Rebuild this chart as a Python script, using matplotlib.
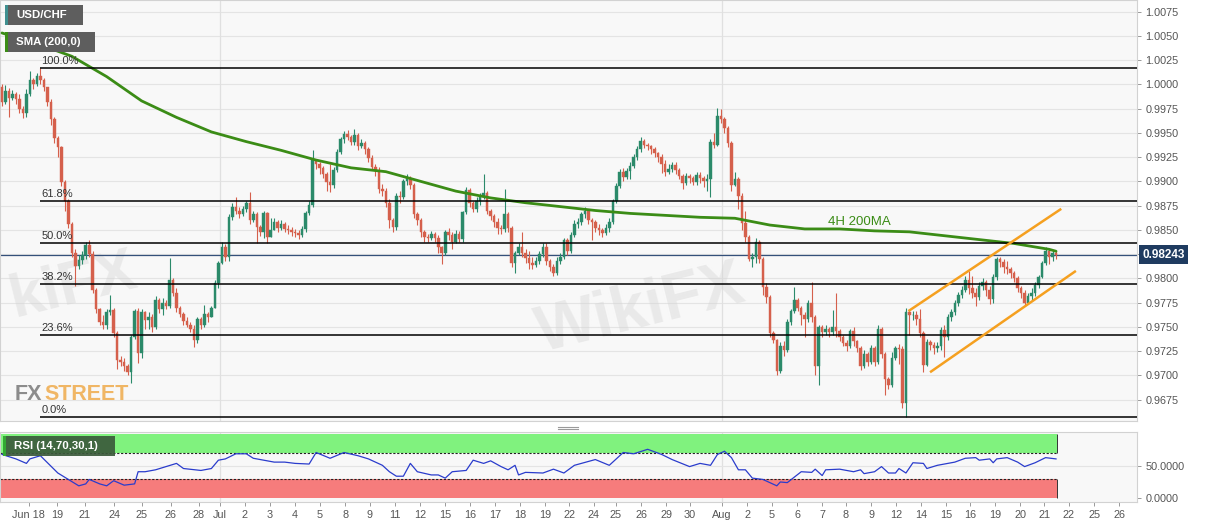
import matplotlib
matplotlib.use('Agg')
import matplotlib.pyplot as plt
import matplotlib.transforms as mtransforms
from matplotlib.patches import Rectangle
from matplotlib.lines import Line2D

plt.rcParams['font.family'] = ['Liberation Sans', 'DejaVu Sans']

W, H = 1207, 526
SCALE = 10000.0  # prices stored in pips (price * 10^4)

# ---------------- data (4H USD/CHF candles) ----------------
first_open = 9997
closes = [
    9982, 9993, 9986, 9990, 9985, 9975, 9970, 9990, 10005, 10000,
    10009, 10005, 9997, 9982, 9964, 9945, 9935, 9899, 9880, 9856,
    9826, 9813, 9819, 9824, 9834, 9825, 9788, 9768, 9755, 9752,
    9765, 9767, 9744, 9716, 9714, 9710, 9703, 9740, 9766, 9723,
    9765, 9757, 9760, 9750, 9778, 9768, 9775, 9772, 9798, 9785,
    9770, 9763, 9756, 9752, 9748, 9736, 9758, 9752, 9763, 9760,
    9769, 9795, 9816, 9832, 9822, 9863, 9874, 9870, 9866, 9872,
    9878, 9860, 9866, 9853, 9848, 9867, 9843, 9850, 9858, 9852,
    9856, 9851, 9850, 9848, 9847, 9845, 9851, 9867, 9876, 9922,
    9918, 9914, 9908, 9899, 9896, 9912, 9930, 9944, 9949, 9946,
    9941, 9948, 9937, 9940, 9933, 9924, 9915, 9911, 9892, 9890,
    9878, 9860, 9853, 9885, 9884, 9900, 9904, 9896, 9866, 9860,
    9848, 9843, 9842, 9846, 9842, 9832, 9826, 9848, 9845, 9838,
    9846, 9841, 9868, 9891, 9878, 9872, 9880, 9884, 9888, 9870,
    9864, 9858, 9852, 9851, 9866, 9852, 9816, 9826, 9832, 9826,
    9821, 9816, 9814, 9818, 9825, 9832, 9818, 9812, 9806, 9818,
    9822, 9840, 9828, 9845, 9856, 9858, 9866, 9870, 9860, 9858,
    9852, 9850, 9847, 9852, 9858, 9880, 9895, 9910, 9905, 9911,
    9916, 9925, 9933, 9942, 9938, 9936, 9933, 9929, 9925, 9918,
    9910, 9913, 9917, 9912, 9906, 9898, 9906, 9904, 9899, 9907,
    9904, 9900, 9902, 9941, 9938, 9967, 9964, 9955, 9940, 9896,
    9902, 9885, 9857, 9843, 9820, 9822, 9838, 9820, 9791, 9781,
    9744, 9737, 9705, 9730, 9726, 9755, 9766, 9778, 9770, 9762,
    9758, 9775, 9760, 9710, 9750, 9745, 9748, 9745, 9750, 9746,
    9740, 9733, 9730, 9746, 9735, 9728, 9710, 9722, 9714, 9728,
    9714, 9748, 9722, 9696, 9690, 9718, 9728, 9727, 9672, 9765,
    9762, 9762, 9758, 9744, 9711, 9734, 9731, 9728, 9730, 9747,
    9740, 9760, 9765, 9775, 9783, 9788, 9798, 9790, 9785, 9781,
    9792, 9796, 9788, 9779, 9801, 9820, 9817, 9812, 9810, 9806,
    9800, 9790, 9785, 9775, 9782, 9785, 9793, 9801, 9816, 9828,
    9822, 9826, 9824]
highs = [
    10000, 9999, 9996, 9994, 9992, 9990, 9978, 9995, 10014, 10007,
    10012, 10017, 10007, 9995, 9985, 9966, 9947, 9937, 9901, 9882,
    9858, 9830, 9824, 9828, 9838, 9840, 9828, 9790, 9770, 9762,
    9768, 9783, 9770, 9746, 9720, 9718, 9712, 9742, 9768, 9769,
    9768, 9766, 9765, 9763, 9782, 9780, 9780, 9778, 9821, 9800,
    9790, 9772, 9765, 9760, 9755, 9752, 9760, 9760, 9773, 9765,
    9772, 9798, 9818, 9838, 9835, 9866, 9878, 9884, 9874, 9875,
    9880, 9889, 9870, 9868, 9855, 9870, 9868, 9862, 9862, 9860,
    9860, 9858, 9855, 9853, 9851, 9850, 9854, 9870, 9880, 9932,
    9923, 9920, 9916, 9910, 9918, 9915, 9933, 9946, 9952, 9953,
    9948, 9954, 9950, 9944, 9942, 9935, 9927, 9918, 9915, 9897,
    9893, 9882, 9862, 9888, 9890, 9902, 9908, 9906, 9898, 9868,
    9862, 9850, 9846, 9849, 9848, 9845, 9833, 9850, 9852, 9848,
    9850, 9849, 9870, 9894, 9893, 9880, 9884, 9888, 9908, 9890,
    9872, 9866, 9862, 9855, 9892, 9868, 9854, 9828, 9836, 9848,
    9830, 9828, 9822, 9822, 9828, 9836, 9836, 9820, 9815, 9822,
    9826, 9842, 9842, 9848, 9860, 9862, 9868, 9874, 9870, 9862,
    9860, 9856, 9852, 9856, 9862, 9882, 9898, 9913, 9914, 9914,
    9920, 9928, 9936, 9946, 9944, 9940, 9938, 9935, 9930, 9928,
    9922, 9918, 9920, 9920, 9914, 9908, 9909, 9908, 9906, 9910,
    9910, 9906, 9908, 9944, 9950, 9976, 9975, 9966, 9957, 9942,
    9910, 9905, 9888, 9870, 9845, 9826, 9842, 9840, 9822, 9795,
    9783, 9746, 9738, 9734, 9735, 9758, 9768, 9791, 9780, 9772,
    9765, 9778, 9796, 9762, 9752, 9752, 9752, 9750, 9767, 9785,
    9748, 9742, 9736, 9748, 9750, 9736, 9730, 9726, 9724, 9731,
    9730, 9752, 9750, 9724, 9698, 9724, 9730, 9732, 9730, 9769,
    9768, 9766, 9766, 9768, 9746, 9738, 9736, 9734, 9734, 9750,
    9752, 9763, 9768, 9778, 9786, 9792, 9802, 9808, 9802, 9790,
    9796, 9800, 9798, 9792, 9805, 9822, 9822, 9820, 9818, 9812,
    9808, 9802, 9792, 9788, 9785, 9790, 9796, 9804, 9818, 9832,
    9830, 9829, 9828]
lows = [
    9978, 9980, 9966, 9984, 9980, 9970, 9965, 9966, 9988, 9995,
    9998, 10000, 9993, 9978, 9958, 9940, 9925, 9895, 9870, 9852,
    9822, 9792, 9810, 9815, 9820, 9822, 9785, 9764, 9752, 9748,
    9748, 9762, 9740, 9707, 9710, 9705, 9700, 9692, 9738, 9713,
    9718, 9748, 9748, 9745, 9748, 9764, 9762, 9768, 9770, 9782,
    9765, 9760, 9752, 9750, 9745, 9729, 9733, 9748, 9750, 9755,
    9760, 9770, 9790, 9815, 9818, 9818, 9860, 9866, 9862, 9864,
    9868, 9856, 9858, 9836, 9844, 9842, 9836, 9845, 9850, 9848,
    9850, 9848, 9846, 9844, 9843, 9841, 9843, 9848, 9865, 9874,
    9913, 9908, 9904, 9890, 9889, 9893, 9910, 9928, 9940, 9943,
    9938, 9938, 9932, 9934, 9928, 9920, 9912, 9906, 9888, 9885,
    9874, 9852, 9848, 9850, 9878, 9882, 9896, 9892, 9862, 9855,
    9843, 9838, 9838, 9840, 9838, 9826, 9815, 9824, 9840, 9830,
    9836, 9838, 9838, 9866, 9874, 9868, 9868, 9876, 9882, 9866,
    9860, 9853, 9846, 9846, 9848, 9848, 9812, 9806, 9824, 9822,
    9816, 9810, 9810, 9812, 9815, 9822, 9814, 9808, 9802, 9804,
    9815, 9820, 9824, 9826, 9843, 9852, 9855, 9862, 9856, 9840,
    9848, 9845, 9843, 9845, 9848, 9856, 9878, 9893, 9900, 9902,
    9902, 9914, 9922, 9930, 9934, 9932, 9928, 9925, 9920, 9909,
    9906, 9908, 9910, 9908, 9902, 9892, 9896, 9898, 9896, 9896,
    9898, 9894, 9890, 9884, 9934, 9936, 9960, 9950, 9935, 9890,
    9895, 9872, 9850, 9838, 9818, 9812, 9816, 9816, 9783, 9775,
    9740, 9733, 9700, 9702, 9720, 9724, 9752, 9764, 9766, 9752,
    9740, 9755, 9755, 9700, 9690, 9740, 9742, 9740, 9742, 9740,
    9735, 9730, 9725, 9728, 9730, 9724, 9706, 9708, 9710, 9712,
    9710, 9712, 9718, 9680, 9686, 9688, 9716, 9712, 9666, 9657,
    9742, 9757, 9752, 9740, 9704, 9710, 9726, 9722, 9724, 9726,
    9719, 9736, 9756, 9762, 9772, 9780, 9786, 9784, 9780, 9772,
    9778, 9788, 9782, 9774, 9775, 9798, 9812, 9806, 9805, 9800,
    9796, 9786, 9780, 9772, 9774, 9778, 9782, 9790, 9800, 9814,
    9815, 9818, 9820]

# 200-period SMA (candle index, value in pips)
sma_idx = list(range(0, 301, 10)) + [302]
sma_vals = [10053, 10042, 10029, 10008, 9983, 9966, 9951, 9941, 9932, 9922,
            9914, 9910, 9900, 9890, 9883, 9878, 9874, 9870, 9867, 9865,
            9863, 9862, 9855, 9851, 9851, 9849, 9848, 9844, 9840, 9836,
            9830, 9828]

# RSI(14)
rsi_idx = [0, 4, 7, 8, 11, 16, 19, 22, 24, 25, 28, 30, 32, 35, 38, 39, 41, 44, 47, 50,
           52, 57, 60, 62, 64, 67, 70, 72, 75, 78, 81, 84, 88, 90, 94, 98, 102, 105, 109, 111,
           113, 115, 117, 119, 123, 125, 127, 129, 133, 135, 138, 140, 143, 145, 147, 148, 150,
           155, 158, 161, 164, 170, 174, 178, 181, 185, 189, 192, 197, 200, 203, 205, 207, 209,
           211, 213, 215, 218, 222, 223, 225, 229, 232, 233, 235, 236, 240, 244, 246, 247, 250,
           252, 254, 256, 257, 259, 261, 264, 265, 268, 271, 273, 276, 279, 280, 283, 284, 285,
           288, 291, 293, 296, 299, 302]
rsi_vals = [68, 61, 54, 61, 66, 39, 29, 19, 22, 29, 22, 19, 27, 20, 22, 41, 41, 44, 49, 54,
            46, 43, 46, 59, 61, 69, 69, 62, 59, 56, 56, 54, 53, 71, 62, 71, 66, 61, 51, 41,
            34, 34, 54, 41, 36, 36, 31, 41, 43, 59, 54, 58, 49, 44, 51, 36, 40,
            39, 45, 39, 51, 60, 51, 71, 69, 76, 68, 60, 49, 54, 51, 68, 73, 63,
            44, 44, 31, 29, 19, 25, 24, 41, 40, 45, 35, 44, 45, 41, 44, 38, 41,
            49, 39, 39, 46, 39, 55, 54, 46, 51, 54, 56, 62, 63, 59, 61, 55, 61,
            63, 56, 49, 55, 63, 61]

date_tick_idx = [7.7, 15.8, 23.8, 32.1, 40.1, 48.4, 56.4, 62.5, 69.6, 76.8, 84.0, 91.1,
                 98.3, 105.4, 112.6, 119.8, 126.9, 134.1, 141.3, 148.4, 155.6, 162.5, 169.6,
                 175.9, 183.1, 190.3, 197.1, 206.3, 213.5, 220.6, 227.8, 235.0, 241.8, 249.0,
                 256.2, 263.3, 270.5, 277.4, 284.5, 291.7, 298.6, 305.7, 312.9, 320.1]
date_tick_labels = ['Jun 18', '19', '21', '24', '25', '26', '28', 'Jul', '2', '3', '4', '5',
                    '8', '9', '11', '12', '15', '16', '17', '18', '19', '22', '24', '25', '26',
                    '29', '30', 'Aug', '2', '5', '6', '7', '8', '9', '12', '14', '15', '16',
                    '19', '20', '21', '22', '25', '26']
month_ticks = ['Jul', 'Aug']

last_price = 0.98243
fib_ratios = [0.0, 0.236, 0.382, 0.5, 0.618, 1.0]
fib_labels = ['0.0%', '23.6%', '38.2%', '50.0%', '61.8%', '100.0%']

channel_upper_idx = [260.0, 303.2]
channel_upper_val = [9767, 9871]
channel_lower_idx = [266.2, 307.4]
channel_lower_val = [9704, 9807]

price_ticks = [0.9675, 0.9700, 0.9725, 0.9750, 0.9775, 0.9800, 0.9825, 0.9850, 0.9875,
               0.9900, 0.9925, 0.9950, 0.9975, 1.0000, 1.0025, 1.0050, 1.0075]

# ---------------- styling ----------------
UP = '#2b8a6a'
DOWN = '#d5604c'
SMA_C = '#3b8c16'
ORANGE = '#f5a020'
GRID = '#e4e4e4'
TXT = '#555555'

fig = plt.figure(figsize=(W / 100, H / 100), dpi=100)
fig.patch.set_facecolor('white')

def fx(px):
    return px / W

def fy(py):
    return 1 - py / H

X_LEFT, X_RIGHT = -0.57, 325.2

ax = fig.add_axes([0, fy(421), fx(1137), 421 / H])
ax2 = fig.add_axes([0, fy(502), fx(1137), 70 / H])

for a in (ax, ax2):
    a.set_facecolor('#f8f8f8')
    a.set_xlim(X_LEFT, X_RIGHT)
    for s in a.spines.values():
        s.set_color('#d2d2d2')
        s.set_linewidth(0.8)

ax.set_ylim(0.9653, 1.0087)

# grid
for t in price_ticks:
    ax.axhline(t, color=GRID, lw=0.8, zorder=0)
for lab, pos in zip(date_tick_labels, date_tick_idx):
    if lab in month_ticks:
        ax.axvline(pos, color='#e0e0e0', lw=0.9, zorder=0)
        ax2.axvline(pos, color='#e0e0e0', lw=0.9, zorder=0)

# watermarks (faint)
ax.text(0.5, 0.9792, 'kiFX', fontsize=44, fontweight='bold', color='#d4d4d4', alpha=0.4,
        rotation=14, ha='left', va='center', zorder=1)
ax.text(183, 0.9768, 'WikiFX', fontsize=46, fontweight='bold', color='#d4d4d4', alpha=0.4,
        rotation=14, ha='center', va='center', zorder=1)

# candles
n = min(len(closes), len(highs), len(lows))
opens = [first_open] + closes[:n - 1]
xs = list(range(n))
o = [v / SCALE for v in opens[:n]]
c = [v / SCALE for v in closes[:n]]
h = [max(highs[i], opens[i], closes[i]) / SCALE for i in range(n)]
l = [min(lows[i], opens[i], closes[i]) / SCALE for i in range(n)]
cols = [UP if c[i] >= o[i] else DOWN for i in range(n)]
ax.vlines(xs, l, h, colors=cols, lw=0.8, zorder=3)
bottoms = [min(o[i], c[i]) for i in range(n)]
heights = [max(abs(c[i] - o[i]), 0.00006) for i in range(n)]
ax.bar(xs, heights, bottom=bottoms, width=0.72, color=cols, edgecolor=cols, lw=0.3, zorder=4)

# SMA
ax.plot(sma_idx, [v / SCALE for v in sma_vals], color=SMA_C, lw=2.0, zorder=5,
        solid_capstyle='round', solid_joinstyle='round')
ax.text(236.7, 0.9858, '4H 200MA', color=SMA_C, fontsize=9.5, ha='left', va='center', zorder=6)

# Fibonacci retracement
hi_i = max(range(n), key=lambda i: h[i])
hi = h[hi_i]
lo = min(l)
for r, lab in zip(fib_ratios, fib_labels):
    lvl = lo + r * (hi - lo)
    ax.hlines(lvl, hi_i, X_RIGHT, color='black', lw=1.1, zorder=5)
    ax.text(hi_i + 0.3, lvl + 0.0002, lab, fontsize=8, color='#333333', ha='left', va='bottom', zorder=6)

# channel
ax.plot(channel_upper_idx, [v / SCALE for v in channel_upper_val], color=ORANGE, lw=1.8, zorder=6)
ax.plot(channel_lower_idx, [v / SCALE for v in channel_lower_val], color=ORANGE, lw=1.8, zorder=6)

# last price line and tag
ax.axhline(last_price, color='#34507a', lw=0.9, zorder=2)
trans = mtransforms.blended_transform_factory(ax.transAxes, ax.transData)
ax.text(1.0048, last_price, f'{last_price:.5f}', transform=trans, ha='left', va='center',
        color='white', fontsize=8.5, fontweight='bold', zorder=10, clip_on=False,
        bbox=dict(boxstyle='square,pad=0.3', fc='#1f3b60', ec='none'))

# right axis (the 0.9825 label sits under the price tag)
ax.yaxis.tick_right()
ax.set_yticks(price_ticks)
ax.set_yticklabels(['' if abs(t - 0.9825) < 1e-9 else f'{t:.4f}' for t in price_ticks])
ax.tick_params(axis='y', length=3, width=0.7, color='#999999', labelcolor=TXT, labelsize=7.8, pad=3)
ax.set_xticks([])

# FXSTREET logo
fig.text(fx(15), fy(400), 'FX', fontsize=15.5, fontweight='bold', color='#8c8c8c',
         ha='left', va='baseline')
fig.text(fx(44), fy(400), 'STREET', fontsize=15.5, fontweight='bold', color='#f0b665',
         ha='left', va='baseline')

# ---------------- RSI panel ----------------
ax2.set_ylim(-6.25, 103)
band_end = 302.4
ax2.fill_between([X_LEFT, band_end], 70, 100, color='#80f27e', lw=0, zorder=1)
ax2.fill_between([X_LEFT, band_end], 0, 30, color='#f67c7c', lw=0, zorder=1)
ax2.hlines([70, 30], X_LEFT, band_end, colors='#222222', lw=0.8, linestyles=(0, (2, 1.5)), zorder=2)
ax2.vlines([band_end], 70, 100, colors='#333333', lw=0.7, zorder=2)
ax2.vlines([band_end], 0, 30, colors='#333333', lw=0.7, zorder=2)
ax2.axhline(50, color=GRID, lw=0.8, zorder=0)
ax2.plot(rsi_idx, rsi_vals, color='#2a3ccc', lw=0.9, zorder=3)

ax2.yaxis.tick_right()
ax2.set_yticks([0, 50])
ax2.set_yticklabels(['0.0000', '50.0000'])
ax2.tick_params(axis='y', length=3, width=0.7, color='#999999', labelcolor=TXT, labelsize=7.8, pad=3)
ax2.set_xticks(date_tick_idx)
ax2.set_xticklabels(date_tick_labels)
ax2.tick_params(axis='x', length=3, width=0.7, color='#999999', labelcolor=TXT, labelsize=7.8, pad=3)

# ---------------- legend boxes ----------------
def box(x0, y0, x1, y1, fc, strip, label, alpha=1.0):
    fig.add_artist(Rectangle((fx(x0), fy(y1)), (x1 - x0) / W, (y1 - y0) / H,
                             transform=fig.transFigure, fc=fc, ec='none', alpha=alpha, zorder=20))
    fig.add_artist(Rectangle((fx(x0), fy(y1)), 2.5 / W, (y1 - y0) / H,
                             transform=fig.transFigure, fc=strip, ec='none', zorder=21))
    fig.text(fx(x0 + 11), fy((y0 + y1) / 2), label, color='white', fontsize=8.2,
             fontweight='bold', ha='left', va='center', zorder=22)

box(5, 5, 83, 25, '#5e5e5e', '#3f8f8f', 'USD/CHF')
box(5, 32, 95, 52, '#5e5e5e', SMA_C, 'SMA (200,0)')
box(3, 436, 115, 456, '#3b5a3b', '#33a833', 'RSI (14,70,30,1)', alpha=0.92)

# separator grip
for yy in (426.5, 429):
    fig.add_artist(Line2D([fx(558), fx(578)], [fy(yy), fy(yy)], transform=fig.transFigure,
                          color='#9a9a9a', lw=0.8))

fig.savefig('out.png', dpi=100, facecolor='white')
